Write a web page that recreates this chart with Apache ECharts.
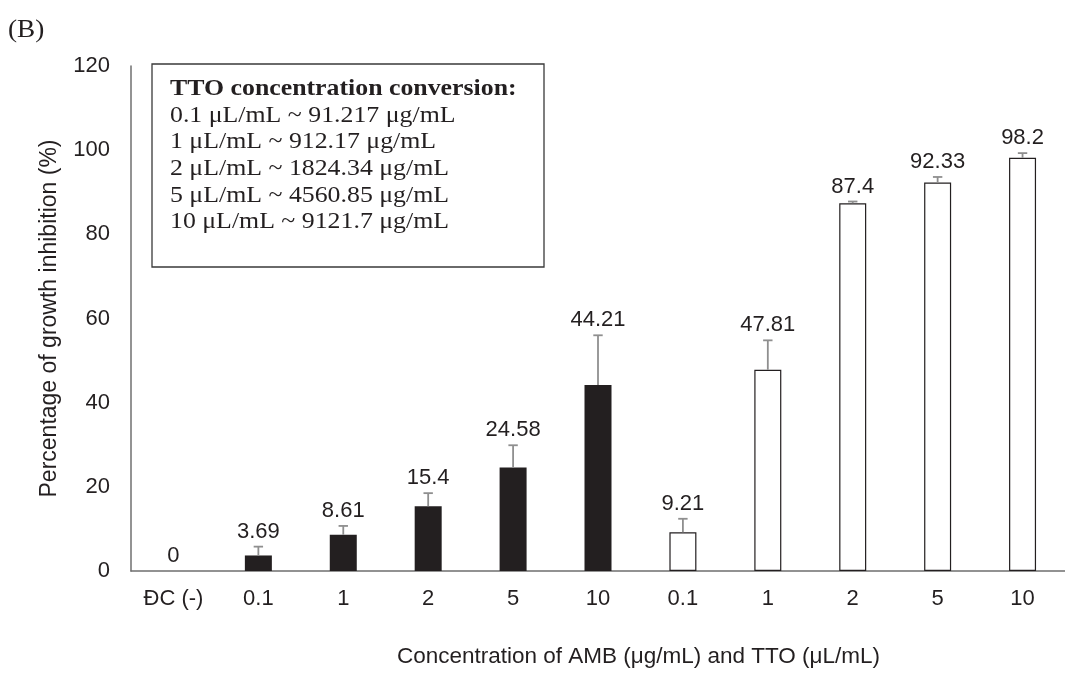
<!DOCTYPE html>
<html>
<head>
<meta charset="utf-8">
<script src="https://cdn.jsdelivr.net/npm/echarts@6/dist/echarts.min.js"></script>
<style>html,body{margin:0;padding:0;background:#fff;}#c{width:1065px;height:673px;}</style>
</head>
<body>
<div id="c"></div>
<script>
const categories = ['ĐC (-)', '0.1', '1', '2', '5', '10', '0.1', '1', '2', '5', '10'];
const values = [0, 3.69, 8.61, 15.4, 24.58, 44.21, 9.21, 47.81, 87.4, 92.33, 98.2];
const errors = [0, 2.1, 2.1, 3.1, 5.3, 11.8, 3.2, 7.0, 0.4, 1.3, 1.1];
const groups = ['control', 'AMB', 'AMB', 'AMB', 'AMB', 'AMB', 'TTO', 'TTO', 'TTO', 'TTO', 'TTO'];
const valueLabels = ['0', '3.69', '8.61', '15.4', '24.58', '44.21', '9.21', '47.81', '87.4', '92.33', '98.2'];
const yMin = 0, yMax = 120, yInterval = 20;
const conversionTitle = 'TTO concentration conversion:';
const conversionLines = [
  '0.1 μL/mL ~ 91.217 μg/mL',
  '1 μL/mL ~ 912.17 μg/mL',
  '2 μL/mL ~ 1824.34 μg/mL',
  '5 μL/mL ~ 4560.85 μg/mL',
  '10 μL/mL ~ 9121.7 μg/mL'
];
const panelLabel = '(B)';
const xTitle = 'Concentration of AMB (μg/mL) and TTO (μL/mL)';
const yTitle = 'Percentage of growth inhibition (%)';

const INK = '#231f20';
const SANS = 'Liberation Sans, Arial, sans-serif';
const SERIF = 'Liberation Serif, Times New Roman, serif';

const chart = echarts.init(document.getElementById('c'), null, {renderer: 'canvas'});

const legendChildren = [{
  type: 'text', x: 0, y: 0, z: 12,
  style: {text: conversionTitle, fill: INK, font: 'bold 23.7px ' + SERIF, verticalAlign: 'middle', align: 'left'}
}].concat(conversionLines.map((t, i) => ({
  type: 'text', x: 0, y: (i + 1) * 26.6, z: 12,
  style: {text: t, fill: INK, font: '23.7px ' + SERIF, verticalAlign: 'middle', align: 'left'}
})));

chart.setOption({
  animation: false,
  backgroundColor: '#fff',
  grid: {left: 131, top: 66, width: 942, height: 506.5, containLabel: false},
  xAxis: {
    type: 'category',
    data: categories,
    axisLine: {lineStyle: {color: '#6f6f6f', width: 1.5}},
    axisTick: {show: false},
    axisLabel: {color: INK, fontSize: 22, fontFamily: SANS, margin: 17, interval: 0},
    name: xTitle,
    nameLocation: 'middle',
    nameGap: 74,
    nameTextStyle: {color: INK, fontSize: 22.5, fontFamily: SANS, padding: [0, 0, 0, 81]}
  },
  yAxis: {
    type: 'value',
    min: yMin, max: yMax, interval: yInterval,
    axisLine: {show: true, lineStyle: {color: '#6f6f6f', width: 1.5}},
    axisTick: {show: false},
    splitLine: {show: false},
    axisLabel: {color: INK, fontSize: 22, fontFamily: SANS, margin: 21},
    name: yTitle,
    nameLocation: 'middle',
    nameGap: 70,
    nameTextStyle: {color: INK, fontSize: 23, fontFamily: SANS}
  },
  series: [
    {
      type: 'bar',
      barWidth: 27,
      data: values.map((v, i) => ({
        value: v,
        itemStyle: groups[i] === 'TTO'
          ? {color: '#ffffff', borderColor: INK, borderWidth: 1.2}
          : {color: INK}
      })),
      z: 2
    },
    {
      type: 'custom',
      coordinateSystem: 'cartesian2d',
      data: values.map((v, i) => [i, v, errors[i]]),
      encode: {x: 0, y: 1},
      z: 5,
      renderItem: function (params, api) {
        const i = api.value(0), v = api.value(1), e = api.value(2);
        const base = api.coord([i, v]);
        const top = api.coord([i, v + e]);
        const children = [];
        if (e > 0) {
          children.push({
            type: 'line',
            shape: {x1: base[0], y1: base[1], x2: top[0], y2: top[1]},
            style: {stroke: '#8f8f8f', lineWidth: 1.8}
          });
          children.push({
            type: 'line',
            shape: {x1: top[0] - 4.7, y1: top[1], x2: top[0] + 4.7, y2: top[1]},
            style: {stroke: '#8f8f8f', lineWidth: 1.8}
          });
        }
        children.push({
          type: 'text',
          x: top[0], y: top[1] - 15,
          style: {
            text: valueLabels[params.dataIndex],
            fill: INK, font: '22px ' + SANS,
            align: 'center', verticalAlign: 'middle'
          }
        });
        return {type: 'group', children: children};
      }
    }
  ],
  graphic: [
    {
      type: 'text', x: 8, y: 30, scaleX: 1.09,
      style: {text: panelLabel, fill: INK, font: '25px ' + SERIF, verticalAlign: 'middle', align: 'left'},
      z: 10
    },
    {
      type: 'rect',
      shape: {x: 152, y: 64, width: 392, height: 203},
      style: {fill: '#ffffff', stroke: '#3a3a3a', lineWidth: 1.3},
      z: 10
    },
    {
      type: 'group', x: 170, y: 89, scaleX: 1.09,
      children: legendChildren,
      z: 12
    }
  ]
});
</script>
</body>
</html>
